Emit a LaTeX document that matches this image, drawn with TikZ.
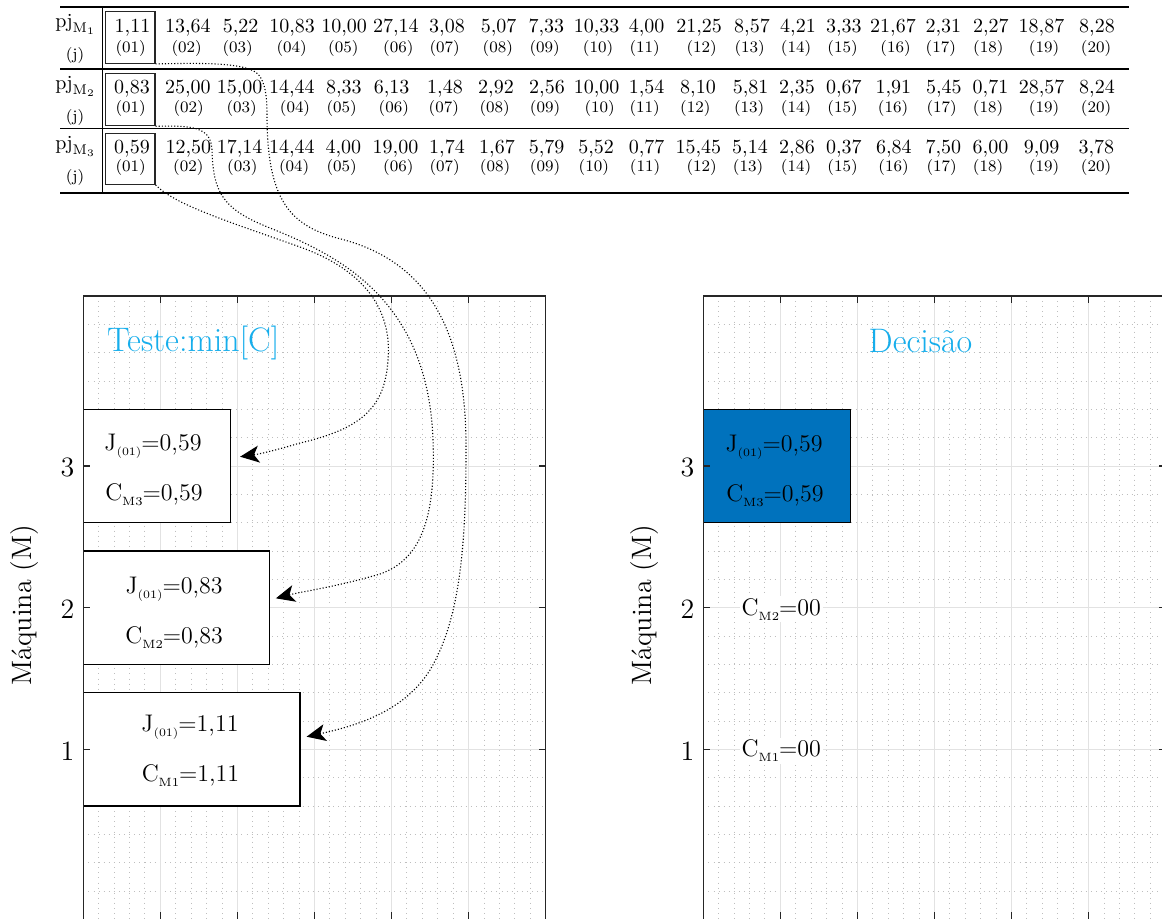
\documentclass[tikz,border=0pt]{standalone}
\usepackage{fontspec}
\usetikzlibrary{arrows.meta}
\definecolor{axcol}{RGB}{38,38,38}
\definecolor{gridmaj}{RGB}{226,226,226}
\definecolor{gridmin}{RGB}{190,190,190}
\definecolor{titlecol}{RGB}{22,174,236}
\definecolor{boxblue}{RGB}{0,114,189}
\newcommand{\subJ}{\raisebox{-2.6pt}{\fontsize{5.7}{6}\selectfont(01)}}
\newcommand{\subM}[1]{\raisebox{-2.6pt}{\fontsize{6}{6}\selectfont M#1}}
\begin{document}
\begin{tikzpicture}[x=0.5pt,y=-0.5pt,
  axisline/.style={draw=axcol,line width=0.65pt},
  majgrid/.style={draw=gridmaj,line width=0.5pt},
  mingrid/.style={draw=gridmin,line width=0.45pt,dash pattern=on 0.45pt off 2.1pt},
  tickmark/.style={draw=axcol,line width=0.6pt},
  numtxt/.style={font=\fontsize{10}{12}\selectfont,anchor=base,inner sep=0pt},
  idxtxt/.style={font=\fontsize{8}{10}\selectfont,anchor=base,inner sep=0pt},
  cellbox/.style={draw=axcol,line width=0.6pt,minimum width=24.65pt,inner sep=0pt},
  plotbox/.style={draw=black,line width=0.6pt,fill=white,inner sep=0pt,minimum height=56.67pt},
  boxtxt/.style={font=\fontsize{12}{14}\selectfont,anchor=base,inner sep=0pt},
  ticklbl/.style={font=\fontsize{14}{16}\selectfont,inner sep=0pt},
  ylbl/.style={font=\fontsize{14}{16}\selectfont,inner sep=0pt,rotate=90},
  titletxt/.style={font=\fontsize{17}{20}\selectfont,text=titlecol,anchor=base,inner sep=0pt},
  conn/.style={densely dotted,line width=0.55pt,-{Stealth[length=9.5pt,width=8.5pt,inset=2.5pt]}},
]
\clip (0,0) rectangle (1162,918);
\fill[white] (0,0) rectangle (1162,918);

% ---------- table ----------
\draw[line width=1pt] (60,7.3) -- (1129,7.3);
\draw[line width=0.6pt] (60,69) -- (1129,69);
\draw[line width=0.6pt] (60,128.3) -- (1129,128.3);
\draw[line width=1pt] (60,192.7) -- (1129,192.7);
\draw[line width=0.6pt] (102.3,7.3) -- (102.3,192.7);

\node[cellbox,minimum height=25.8pt] (c1) at (130.35,37.5) {};
\node[cellbox,minimum height=26.2pt] (c2) at (130.35,99.5) {};
\node[cellbox,minimum height=25.5pt] (c3) at (130.35,158.8) {};

\node[numtxt,anchor=base west] (p1) at (55,27) {$\mathrm{pj}_{\mathrm{M}_1}$};
\node[idxtxt] (j1) at (75,59) {(j)};
\node[numtxt,anchor=base west] (p2) at (55,89) {$\mathrm{pj}_{\mathrm{M}_2}$};
\node[idxtxt] (j2) at (75,121) {(j)};
\node[numtxt,anchor=base west] (p3) at (55,149.5) {$\mathrm{pj}_{\mathrm{M}_3}$};
\node[idxtxt] (j3) at (75,181) {(j)};

\foreach \nx/\v/\ix/\i in {132.5/{1,11}/130.7/01, 187.8/{13,64}/186.7/02, 240.7/{5,22}/237.7/03, 292.2/{10,83}/291.7/04, 344.2/{10,00}/343.3/05, 395.8/{27,14}/398.3/06, 447/{3,08}/444.7/07, 498.7/{5,07}/497.8/08, 546.3/{7,33}/544.7/09, 596.7/{10,33}/598/10, 646.7/{4,00}/644.7/11, 699.2/{21,25}/701.7/12, 752/{8,57}/749.7/13, 798/{4,21}/796/14, 843.8/{3,33}/842.5/15, 893/{21,67}/895.5/16, 943.3/{2,31}/940.8/17, 990.8/{2,27}/988.3/18, 1041.5/{18,87}/1044/19, 1097/{8,28}/1096/20}{
  \node[numtxt] (ra\i) at (\nx,32.5) {\v};
  \node[idxtxt] (rai\i) at (\ix,52) {(\i)};
}
\foreach \nx/\v/\ix/\i in {132/{0,83}/130.7/01, 187.8/{25,00}/188.7/02, 239.7/{15,00}/241.7/03, 291.8/{14,44}/295/04, 343.8/{8,33}/341.7/05, 391.7/{6,13}/393.8/06, 445/{1,48}/443.8/07, 496/{2,92}/494.7/08, 547/{2,56}/545/09, 596.7/{10,00}/599.7/10, 646.7/{1,54}/644.7/11, 698/{8,10}/695.3/12, 750.7/{5,81}/749.2/13, 797/{2,35}/796/14, 843.8/{0,67}/842.5/15, 893.3/{1,91}/893/16, 943.8/{5,45}/941.7/17, 990.5/{0,71}/988/18, 1041.7/{28,57}/1044/19, 1097/{8,24}/1096/20}{
  \node[numtxt] (rb\i) at (\nx,93.5) {\v};
  \node[idxtxt] (rbi\i) at (\ix,112.5) {(\i)};
}
\foreach \nx/\v/\ix/\i in {132/{0,59}/130.7/01, 188.3/{12,50}/188.3/02, 239.7/{17,14}/242.3/03, 291.8/{14,44}/294.2/04, 343.3/{4,00}/341.7/05, 395.5/{19,00}/398.3/06, 447/{1,74}/444.7/07, 497/{1,67}/495/08, 546.7/{5,79}/545/09, 596.2/{5,52}/593.8/10, 646.7/{0,77}/645/11, 698.3/{15,45}/701.7/12, 750/{5,14}/748/13, 797/{2,86}/796/14, 843.8/{0,37}/842.5/15, 893.8/{6,84}/893.5/16, 943.3/{7,50}/941.7/17, 990.5/{6,00}/988/18, 1041.7/{9,09}/1044/19, 1096.3/{3,78}/1096/20}{
  \node[numtxt] (rc\i) at (\nx,153.5) {\v};
  \node[idxtxt] (rci\i) at (\ix,171) {(\i)};
}

% ---------- grids ----------
\foreach \ox in {83.3,703.3}{
  \foreach \k in {1,...,29}
    \draw[mingrid] ({\ox+\k*15.41},296) -- ({\ox+\k*15.41},919.3);
  \foreach \k in {1,...,21}
    \draw[mingrid] (\ox,{296+\k*28.333}) -- ({\ox+462.3},{296+\k*28.333});
  \foreach \k in {1,...,5}
    \draw[majgrid] ({\ox+\k*77.05},296) -- ({\ox+\k*77.05},919.3);
  \foreach \v in {1,2,3}
    \draw[majgrid] (\ox,{891-\v*141.67}) -- ({\ox+462.3},{891-\v*141.67});
}

% ---------- titles ----------
\node[titletxt,anchor=base west] (t1) at (106.7,351.7) {Teste:min[C]};
\node[titletxt] (t2) at (920.5,352.7) {Decisão};

% ---------- left boxes ----------
\node[plotbox,minimum width=73.7pt] (b3) at (157,465.8) {};
\node[plotbox,minimum width=93pt] (b2) at (176.3,607.7) {};
\node[plotbox,minimum width=108.35pt] (b1) at (191.65,749.3) {};
\node[boxtxt] (b3j) at (153,450.7) {J\subJ=0,59};
\node[boxtxt] (b3c) at (154,500.7) {C\subM{3}=0,59};
\node[boxtxt] (b2j) at (174.2,593.3) {J\subJ=0,83};
\node[boxtxt] (b2c) at (174.2,643.3) {C\subM{2}=0,83};
\node[boxtxt] (b1j) at (190,731.5) {J\subJ=1,11};
\node[boxtxt] (b1c) at (190.5,781) {C\subM{1}=1,11};

% ---------- right plot contents ----------
\node[plotbox,fill=boxblue,minimum width=73.7pt] (b4) at (777,465.8) {};
\node[boxtxt] (b4j) at (774.2,451.2) {J\subJ=0,59};
\node[boxtxt] (b4c) at (775,501.2) {C\subM{3}=0,59};
\node[boxtxt,fill=white,inner sep=1pt] (r2) at (781.3,615) {C\subM{2}=00};
\node[boxtxt,fill=white,inner sep=1pt] (r1) at (781.3,756.7) {C\subM{1}=00};

% ---------- axes ----------
\foreach \ox/\p in {83.3/L,703.3/R}{
  \draw[axisline] (\ox,919.3) -- (\ox,296) -- ({\ox+462.3},296) -- ({\ox+462.3},919.3);
  \foreach \k in {1,...,5}{
    \draw[tickmark] ({\ox+\k*77.05},296) -- ({\ox+\k*77.05},303);
    \draw[tickmark] ({\ox+\k*77.05},919.3) -- ({\ox+\k*77.05},912.3);
  }
  \foreach \v in {1,2,3}{
    \draw[tickmark] (\ox,{891-\v*141.67}) -- ({\ox+7},{891-\v*141.67});
    \draw[tickmark] ({\ox+462.3},{891-\v*141.67}) -- ({\ox+455.3},{891-\v*141.67});
    \node[ticklbl] (tk\p\v) at ({\ox-15.8},{892.5-\v*141.67}) {\v};
  }
  \node[ylbl] (yl\p) at ({\ox-58.3},605) {Máquina (M)};
}

% ---------- connectors ----------
\coordinate (e1) at ([xshift=3pt,yshift=6.3pt]b1.east);
\coordinate (e2) at ([xshift=3pt,yshift=4.7pt]b2.east);
\coordinate (e3) at ([xshift=4.4pt,yshift=4.55pt]b3.east);

\draw[conn] (c1.south east) .. controls (200,63) and (245,62) .. (258,74)
  .. controls (265,82) and (267,95) .. (267,115)
  .. controls (267,200) and (290,225) .. (337,238)
  .. controls (420,258) and (467,320) .. (466,450)
  .. controls (466,545) and (460,620) .. (430,670)
  .. controls (405,710) and (360,725) .. (e1);
\draw[conn] (c2.south east) .. controls (195,125) and (211,128) .. (212,150)
  .. controls (213,195) and (225,210) .. (270,228)
  .. controls (340,256) and (428,300) .. (433,440)
  .. controls (436,520) and (420,560) .. (380,574)
  .. controls (340,586) and (300,592) .. (e2);
\draw[conn] (c3.south east) .. controls (175,205) and (230,222) .. (300,247)
  .. controls (370,272) and (392,315) .. (388,360)
  .. controls (385,405) and (365,428) .. (300,443)
  .. controls (280,449) and (260,454) .. (e3);
\end{tikzpicture}
\end{document}
